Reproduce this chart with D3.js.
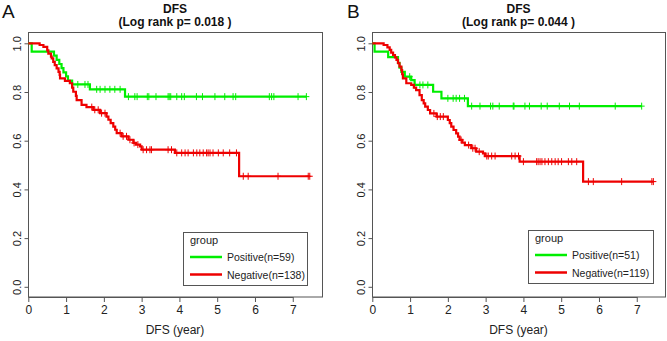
<!DOCTYPE html>
<html><head><meta charset="utf-8">
<script src="https://cdn.jsdelivr.net/npm/d3@7/dist/d3.min.js"></script>
<style>body{margin:0;background:#fff}svg{display:block}text{font-family:"Liberation Sans",Arial,sans-serif}</style>
</head><body><svg id="c" width="667" height="341"></svg>
<script>
// ---- data ----
const xTicks = [0,1,2,3,4,5,6,7];
const yTicks = [0.0,0.2,0.4,0.6,0.8,1.0];
const panelLetters = ["A","B"];
const titles = ["DFS","DFS"];
const pTexts = ["(Log rank p= 0.018 )","(Log rank p= 0.044 )"];
const legendTitle = "group";
const groupNamesA = ["Positive(n=59)","Negative(n=138)"];
const groupNamesB = ["Positive(n=51)","Negative(n=119)"];
const xLabel = "DFS (year)";

// step events: [time, survival after the step]
const posStepsA = [[0.09,0.966],[0.68,0.949],[0.75,0.932],[0.82,0.915],[0.88,0.898],[0.93,0.881],[1.0,0.864],[1.05,0.847],[1.16,0.831],[1.63,0.811],[2.56,0.781]];
const posCensA = [1.31,1.50,1.58,1.81,1.90,2.03,2.16,2.29,2.43,2.65,2.82,2.88,3.15,3.19,3.38,3.70,3.73,3.77,3.93,4.06,4.13,4.45,4.61,4.94,5.20,5.42,5.49,6.38,6.44,6.50,7.14,7.36];
const negStepsA = [[0.3,0.993],[0.4,0.985],[0.5,0.971],[0.53,0.958],[0.6,0.945],[0.62,0.938],[0.66,0.924],[0.7,0.910],[0.75,0.897],[0.8,0.883],[0.83,0.870],[0.84,0.856],[0.97,0.846],[1.1,0.836],[1.16,0.818],[1.19,0.801],[1.26,0.784],[1.28,0.767],[1.41,0.747],[1.54,0.738],[1.72,0.727],[1.90,0.713],[2.07,0.699],[2.12,0.686],[2.18,0.672],[2.25,0.658],[2.3,0.645],[2.34,0.631],[2.47,0.618],[2.65,0.604],[2.78,0.591],[2.85,0.584],[2.96,0.577],[3.0,0.563],[3.88,0.550],[5.58,0.454]];
const negCensA = [1.68,1.76,1.85,1.94,2.03,2.43,2.51,2.60,2.69,2.80,2.90,3.04,3.13,3.22,3.26,3.70,3.79,3.93,4.06,4.15,4.23,4.37,4.46,4.54,4.63,4.72,4.76,4.81,4.89,5.03,5.16,5.33,5.51,5.69,5.82,6.61,7.41,7.45];

const posStepsB = [[0.06,0.966],[0.42,0.943],[0.68,0.920],[0.72,0.900],[0.77,0.883],[0.86,0.863],[1.03,0.849],[1.12,0.829],[1.61,0.801],[1.83,0.774],[2.53,0.742]];
const posCensB = [0.99,1.12,1.26,1.34,1.47,2.0,2.14,2.22,2.31,2.44,2.63,2.85,3.13,3.19,3.36,3.73,3.75,4.04,4.16,4.47,4.63,4.95,5.22,5.48,6.43,7.13];
const negStepsB = [[0.3,0.993],[0.4,0.983],[0.46,0.973],[0.5,0.962],[0.55,0.952],[0.6,0.942],[0.64,0.932],[0.68,0.918],[0.72,0.904],[0.77,0.890],[0.79,0.873],[0.81,0.856],[0.9,0.836],[1.03,0.829],[1.1,0.818],[1.16,0.808],[1.25,0.787],[1.31,0.767],[1.36,0.753],[1.40,0.740],[1.47,0.726],[1.53,0.712],[1.70,0.699],[2.0,0.685],[2.05,0.672],[2.09,0.658],[2.15,0.644],[2.22,0.630],[2.27,0.617],[2.31,0.603],[2.38,0.592],[2.45,0.582],[2.62,0.569],[2.75,0.555],[2.93,0.548],[2.98,0.537],[3.9,0.514],[5.58,0.432]];
const negCensB = [1.63,1.72,1.80,1.88,2.35,2.55,2.66,2.72,2.83,3.03,3.07,3.16,3.25,3.69,3.78,3.87,4.0,4.35,4.39,4.44,4.49,4.57,4.66,4.75,4.84,4.92,5.01,5.19,5.28,5.41,5.72,5.85,6.60,7.40,7.44];

const colPos = "#00ee00", colNeg = "#ee0000";

const panels = [
  {x0:28, x1:322, xr0:28.3, letterX:2, names:groupNamesA, pos:[posStepsA,posCensA], neg:[negStepsA,negCensA], leg:[183,232,124,53]},
  {x0:372, x1:665, xr0:372.3, letterX:347, names:groupNamesB, pos:[posStepsB,posCensB], neg:[negStepsB,negCensB], leg:[528,230,125,53]}
];

const svg = d3.select("#c");
const boxTop = 32.5, boxBot = 297;

panels.forEach((p,i)=>{
  const g = svg.append("g");
  const x = d3.scaleLinear().domain([0,7]).range([p.xr0, p.xr0 + 7*37.78]);
  const y = d3.scaleLinear().domain([0,1]).range([286.8, 43.3]);

  // box
  g.append("rect").attr("x",p.x0+0.5).attr("y",boxTop).attr("width",p.x1-p.x0).attr("height",boxBot-boxTop)
    .attr("fill","none").attr("stroke","#555").attr("stroke-width",1);

  // x axis
  const xa = g.append("g").attr("transform",`translate(0,${boxBot})`)
    .call(d3.axisBottom(x).tickValues(xTicks).tickFormat(d3.format("d")).tickSize(5).tickSizeOuter(0).tickPadding(3));
  xa.select(".domain").attr("stroke","#555");
  xa.selectAll(".tick line").attr("stroke","#555");
  xa.selectAll("text").attr("font-size",12).attr("fill","#222").attr("font-family","Liberation Sans, Arial, sans-serif");

  // y axis
  const ya = g.append("g").attr("transform",`translate(${p.x0+0.5},0)`)
    .call(d3.axisLeft(y).tickValues(yTicks).tickFormat(d3.format(".1f")).tickSize(4).tickSizeOuter(0));
  ya.select(".domain").remove();
  ya.selectAll(".tick line").attr("stroke","#555");
  ya.selectAll("text").attr("font-size",11).attr("fill","#222").attr("font-family","Liberation Sans, Arial, sans-serif")
    .attr("text-anchor","middle").attr("x",0).attr("dy",0)
    .attr("transform","translate(-12,0) rotate(-90)").attr("dominant-baseline","central");

  // titles
  const cx = (p.x0+p.x1)/2;
  g.append("text").attr("x",p.letterX).attr("y",18).attr("font-size",19).attr("fill","#111").text(panelLetters[i]);
  g.append("text").attr("x",cx).attr("y",12.5).attr("text-anchor","middle").attr("font-size",12).attr("font-weight","bold").attr("fill","#111").text(titles[i]);
  g.append("text").attr("x",cx).attr("y",26).attr("text-anchor","middle").attr("font-size",12).attr("font-weight","bold").attr("fill","#111").text(pTexts[i]);
  g.append("text").attr("x",cx).attr("y",334).attr("text-anchor","middle").attr("font-size",12).attr("fill","#222").text(xLabel);

  // curves
  const line = d3.line().x(d=>x(d[0])).y(d=>y(d[1])).curve(d3.curveStepAfter);
  function draw(steps, cens, col){
    const sAt = t => { let s=1; steps.forEach(d=>{ if(d[0]<=t) s=d[1]; }); return s; };
    const end = Math.max(steps[steps.length-1][0], d3.max(cens));
    const pts = [[0,1], ...steps, [end, sAt(end)]];
    g.append("path").attr("d",line(pts)).attr("fill","none").attr("stroke",col).attr("stroke-width",2.2);
    g.append("g").selectAll("path").data(cens).join("path")
      .attr("d",t=>{const px=x(t), py=y(sAt(t)); return `M${px-3},${py}H${px+3}M${px},${py-3.5}V${py+3.5}`;})
      .attr("stroke",col).attr("stroke-width",1).attr("fill","none");
  }
  draw(p.pos[0], p.pos[1], colPos);
  draw(p.neg[0], p.neg[1], colNeg);

  // legend
  const [lx,ly,lw,lh] = p.leg;
  g.append("rect").attr("x",lx+0.5).attr("y",ly+0.5).attr("width",lw).attr("height",lh).attr("fill","#fff").attr("stroke","#555");
  g.append("text").attr("x",lx+7).attr("y",ly+12).attr("font-size",11).attr("fill","#222").text(legendTitle);
  [[colPos,p.names[0],25],[colNeg,p.names[1],42.5]].forEach(([c,n,dy])=>{
    g.append("line").attr("x1",lx+7).attr("x2",lx+39).attr("y1",ly+dy).attr("y2",ly+dy).attr("stroke",c).attr("stroke-width",2.5);
    g.append("text").attr("x",lx+44).attr("y",ly+dy+4).attr("font-size",10.5).attr("fill","#222").text(n);
  });
});
</script></body></html>
